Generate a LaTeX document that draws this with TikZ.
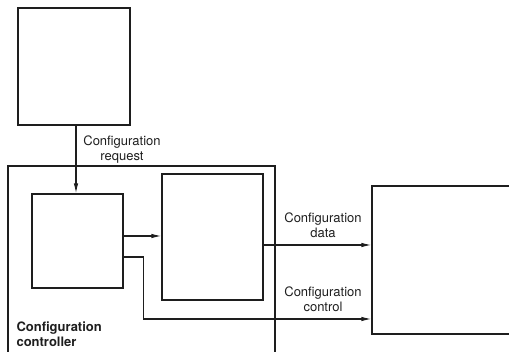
\documentclass[tikz,border=0pt]{standalone}
\usepackage{fontspec}
\setmainfont{TeX Gyre Heros}
\usepackage{tikz}
\usetikzlibrary{calc,arrows.meta,positioning}
\definecolor{inkgray}{RGB}{30,30,30}

\tikzset{
    blockbox/.style={draw=inkgray, line width=1.3pt, minimum width=#1, inner sep=0pt},
    sigline/.style={draw=inkgray, line width=1.1pt, -{Latex[length=10pt,width=4.5pt]}},
    siglabel/.style={text=inkgray, align=center, font=\fontsize{13}{15}\selectfont},
}

\begin{document}
\begin{tikzpicture}[x=1pt, y=1pt]
    \useasboundingbox (0,0) rectangle (509,352);
    \clip (0,0) rectangle (509,352);

    % outer controller frame (runs off the bottom)
    \draw[inkgray, line width=1.3pt] (8,-20) -- (8,186) -- (275,186) -- (275,-20);

    % boxes
    \node[blockbox=112pt, minimum height=117pt] (reqbox) at (74,285.5) {};
    \node[blockbox=91pt, minimum height=94pt] (ctrlbox) at (77.5,111) {};
    \node[blockbox=101pt, minimum height=126pt] (membox) at (212.5,115) {};
    \node[blockbox=158pt, minimum height=148pt] (devbox) at (451,92) {};

    % request into the controller
    \draw[sigline] ([xshift=2pt]reqbox.south) -- ([xshift=2pt]reqbox.south |- ctrlbox.north);
    \node[siglabel] (reqlabel) at (122,202.5) {Configuration\\request};

    % controller to memory
    \draw[sigline] ([yshift=5pt]ctrlbox.east) -- ([yshift=5pt]ctrlbox.east -| membox.west);

    % data and control out to the device
    \draw[sigline] ([yshift=-8pt]membox.east) -- ([yshift=-8pt]membox.east -| devbox.west);
    \node[siglabel] (datalabel) at (323,127) {Configuration\\data};

    \coordinate (bend) at ([yshift=-16pt]ctrlbox.east);
    \draw[sigline] (bend) -- ++(20,0) |- (devbox.west |- 0,33);
    \node[siglabel] (ctllabel) at (323,53) {Configuration\\control};

    % frame caption
    \node[siglabel, align=left, anchor=west, font=\fontsize{13}{15}\selectfont\bfseries]
        (framelabel) at (13,18) {Configuration\\controller};
\end{tikzpicture}
\end{document}
